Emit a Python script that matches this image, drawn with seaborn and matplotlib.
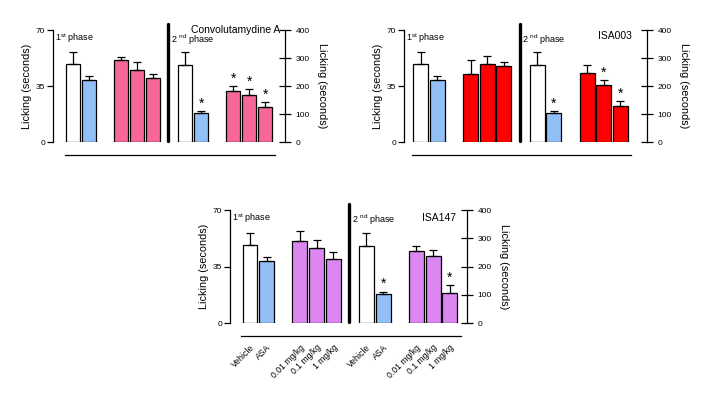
import numpy as np
import pandas as pd
import matplotlib
import matplotlib.pyplot as plt
import seaborn as sns

matplotlib.use("Agg")

# ------------------------------------------------------------
# Data (licking time, mean and SEM)
# ------------------------------------------------------------
groups = ["Vehicle", "ASA", "0.01 mg/kg", "0.1 mg/kg", "1 mg/kg"]
kinds = ["vehicle", "asa", "drug", "drug", "drug"]

# Convolutamydine A
conv_p1_mean = [48.6, 38.6, 51.1, 44.9, 39.9]
conv_p1_sem = [7.5, 2.5, 1.9, 5.0, 2.5]
conv_p2_mean = [274, 103, 182, 167, 125]
conv_p2_sem = [46, 7, 17, 21, 17]
conv_p2_star = [False, True, True, True, True]

# ISA003
isa003_p1_mean = [48.6, 38.6, 42.4, 48.6, 47.4]
isa003_p1_sem = [7.5, 2.5, 8.7, 5.0, 2.5]
isa003_p2_mean = [274, 103, 246, 203, 128]
isa003_p2_sem = [46, 7, 28, 18, 18]
isa003_p2_star = [False, True, False, True, True]

# ISA147
isa147_p1_mean = [48.2, 38.3, 50.6, 46.5, 39.7]
isa147_p1_sem = [7.4, 2.7, 6.4, 5.0, 4.2]
isa147_p2_mean = [272, 104, 254, 238, 106]
isa147_p2_sem = [46, 7, 18, 21, 29]
isa147_p2_star = [False, True, False, False, True]

# positions des barres (1ère phase / 2ème phase)
pos_p1 = [0, 1, 3, 4, 5]
pos_p2 = [7, 8, 10, 11, 12]
divider_x = 5.95

COL_BLUE = "#93BFF7"
COL_PINK = "#F8679A"
COL_RED = "#FF0000"
COL_VIOLET = "#DC86F2"

sns.set_style("ticks")
plt.rcParams.update({
    "font.family": ["Liberation Sans", "DejaVu Sans"],
    "mathtext.default": "regular",
    "axes.linewidth": 0.9,
    "axes.edgecolor": "black",
    "axes.labelcolor": "black",
    "text.color": "black",
    "xtick.color": "black",
    "ytick.color": "black",
})

fig = plt.figure(figsize=(7.03, 3.97), dpi=100)


def draw_bars(ax, pos, mean, sem, palette):
    df = pd.DataFrame({"pos": pos, "val": mean, "kind": kinds})
    sns.barplot(data=df, x="pos", y="val", hue="kind", palette=palette,
                native_scale=True, dodge=False, width=0.9, errorbar=None,
                saturation=1, edgecolor="black", linewidth=0.9,
                legend=False, ax=ax)
    ax.errorbar(df["pos"], df["val"], yerr=[np.zeros(len(sem)), sem],
                fmt="none", ecolor="black", elinewidth=0.9,
                capsize=3, capthick=0.9, zorder=4)
    ax.set_xlabel("")
    ax.set_ylabel("")


def draw_panel(rect, name, color, p1_mean, p1_sem, p2_mean, p2_sem, stars,
               xlim, name_xy, show_labels):
    palette = {"vehicle": "white", "asa": COL_BLUE, "drug": color}

    ax = fig.add_axes(rect)
    ax2 = ax.twinx()

    draw_bars(ax, pos_p1, p1_mean, p1_sem, palette)
    draw_bars(ax2, pos_p2, p2_mean, p2_sem, palette)

    # astérisques (p < 0.05)
    for x, m, s, st in zip(pos_p2, p2_mean, p2_sem, stars):
        if st:
            ax2.annotate("*", xy=(x, m + s), xytext=(0, 0.5),
                         textcoords="offset points", ha="center",
                         va="bottom", fontsize=10)

    ax.set_xlim(*xlim)
    ax.set_ylim(0, 70)
    ax2.set_ylim(0, 400)
    ax.set_yticks([0, 35, 70])
    ax2.set_yticks([0, 100, 200, 300, 400])

    # spines
    ax.spines["top"].set_visible(False)
    ax.spines["right"].set_visible(False)
    ax.spines["bottom"].set_position(("outward", 9))
    ax.spines["bottom"].set_bounds(-0.55, 12.65)
    for side in ["top", "left", "bottom"]:
        ax2.spines[side].set_visible(False)

    ax.tick_params(axis="y", direction="out", length=4, width=0.9,
                   labelsize=6, pad=1.5)
    ax2.tick_params(axis="y", direction="inout", length=8, width=0.9,
                    labelsize=6, pad=3.5)
    ax.tick_params(axis="x", length=0)

    if show_labels:
        ax.set_xticks(pos_p1 + pos_p2)
        ax.set_xticklabels(groups + groups, rotation=45, ha="right",
                           va="top", rotation_mode="anchor", fontsize=6.2)
        ax.tick_params(axis="x", pad=5)
    else:
        ax.set_xticks([])

    ax.set_ylabel("Licking (seconds)", fontsize=7.8, labelpad=3)
    ax2.set_ylabel("Licking (seconds)", fontsize=7.8, rotation=270,
                   va="bottom", labelpad=5)

    # séparation 1ère / 2ème phase
    ax.axvline(divider_x, ymin=0.01, ymax=1.05, color="black",
               linewidth=2.4, clip_on=False, zorder=5)

    ax.text(0.01, 0.93, "1$^{st}$ phase", transform=ax.transAxes,
            fontsize=6.5, ha="left", va="center")
    ax.text(divider_x + 0.15, 64.0, "2 $^{nd}$ phase",
            fontsize=6.5, ha="left", va="center")
    ax.text(name_xy[0], name_xy[1], name, transform=ax.transAxes,
            fontsize=7.5, ha="right", va="center")


draw_panel([0.0754, 0.6423, 0.3300, 0.2821], "Convolutamydine A", COL_PINK,
           conv_p1_mean, conv_p1_sem, conv_p2_mean, conv_p2_sem,
           conv_p2_star, (-1.27, 13.25), (0.978, 1.0), False)
draw_panel([0.5747, 0.6423, 0.3457, 0.2821], "ISA003", COL_RED,
           isa003_p1_mean, isa003_p1_sem, isa003_p2_mean, isa003_p2_sem,
           isa003_p2_star, (-1.0, 13.6), (0.937, 0.945), False)
draw_panel([0.3272, 0.1856, 0.3371, 0.2854], "ISA147", COL_VIOLET,
           isa147_p1_mean, isa147_p1_sem, isa147_p2_mean, isa147_p2_sem,
           isa147_p2_star, (-1.2, 13.04), (0.952, 0.932), True)

fig.savefig("out.png", dpi=100, facecolor="white")
